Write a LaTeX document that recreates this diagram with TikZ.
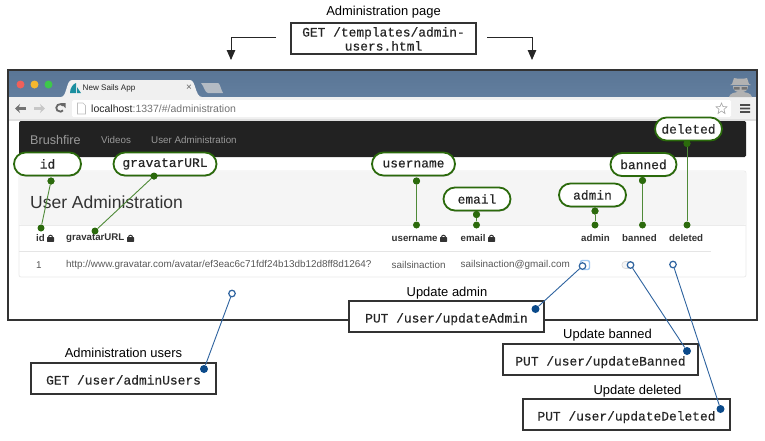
\documentclass[tikz,border=0pt]{standalone}
\usepackage{fontspec}
\setmainfont{Liberation Sans}
\setmonofont{Liberation Mono}
\newfontfamily\monom[FakeBold=0.35]{Liberation Mono}
\usetikzlibrary{shadows,calc,arrows.meta}
\definecolor{gr}{HTML}{2B6A0C}
\definecolor{grl}{HTML}{4F8A38}
\definecolor{bl}{HTML}{0B4A8A}
\definecolor{bll}{HTML}{2E639F}
\definecolor{txt}{HTML}{333333}
\definecolor{HeaderTop}{HTML}{5A7696}
\definecolor{HeaderBot}{HTML}{627E9E}
\definecolor{HTMLred}{HTML}{F0605A}
\definecolor{HTMLyel}{HTML}{F5B82E}
\definecolor{HTMLgrn}{HTML}{3DC84A}
\definecolor{HTMLtab}{HTML}{B4BBC4}
\definecolor{HTMLsail}{HTML}{1A8FA0}
\definecolor{HTMLnav}{HTML}{222222}
\definecolor{HTMLchk}{HTML}{9CC6F0}
\newcommand{\fs}[2][14]{\fontsize{#2}{#1}\selectfont}
\tikzset{
 x=1pt,y=-1pt,
 callbox/.style={draw=black!80,line width=1.2pt,fill=white,inner sep=0pt,font=\monom\fs{12.9},text=black!85,align=center,text height=12pt,text depth=0pt,drop shadow={shadow xshift=0.8pt,shadow yshift=-1.2pt,opacity=.35,fill=black}},
 pill/.style={draw=gr,line width=1.8pt,fill=white,rounded corners=11.5pt,minimum height=23pt,inner sep=0pt,font=\monom\fs{12.9},text=black!85,drop shadow={shadow xshift=0.6pt,shadow yshift=-1pt,opacity=.25,fill=black}},
 gdot/.style={circle,fill=gr,draw=none,minimum size=7pt,inner sep=0pt},
 bdot/.style={circle,fill=bl,draw=none,minimum size=8pt,inner sep=0pt},
 bopen/.style={circle,fill=white,draw=bll,line width=1.2pt,minimum size=6.5pt,inner sep=0pt},
 gline/.style={draw=grl,line width=0.9pt},
 bline/.style={draw=bll,line width=0.9pt},
 capt/.style={font=\fs{12.95},text=black,inner sep=0pt},
 head/.style={anchor=west,inner sep=0pt,font=\bfseries\fs{9.7},text=txt},
 cell/.style={anchor=west,inner sep=0pt,font=\fs{9.9},text=black!65},
 lockpic/.pic={\fill[txt,rounded corners=.5pt] (-3.5,-0.8) rectangle (3.5,3.8);\draw[txt,line width=1pt] (-2,-0.8) arc[start angle=180,end angle=360,radius=2];},
 flow/.style={draw=black!85,line width=0.9pt,-{Triangle[length=10pt,width=8.5pt]}},
}
\begin{document}
\begin{tikzpicture}
\useasboundingbox (0,0) rectangle (765,440);
\fill[white] (0,0) rectangle (765,440);
% window
\fill[white] (8,70) rectangle (757,320);
\shade[top color=HeaderTop,bottom color=HeaderBot] (8,71) rectangle (757,97);
\fill[gray!25] (8,97) rectangle (757,121);
\fill[gray!12] (8,97) rectangle (757,119);
\draw[black!80,line width=1.1pt] (8,320) -- (8,70) -- (757,70) -- (757,320) -- cycle;
% traffic lights
\fill[HTMLred] (20.5,84.5) circle (4);
\fill[HTMLyel] (34.5,84.5) circle (4);
\fill[HTMLgrn] (48.5,84.5) circle (4);
% tabs
\fill[gray!12] (61,97) .. controls (67,97) and (66,80) .. (72,80) -- (190,80) .. controls (196,80) and (195,97) .. (202,97) -- cycle;
\fill[HTMLtab] (201,83) -- (218,83) .. controls (220,83) and (221,90) .. (223,93) -- (208,93) .. controls (205,93) and (204,86) .. (201,83) -- cycle;
\fill[HTMLsail] (70,93) .. controls (70,88) and (73,84) .. (76,83) -- (76,93) -- cycle;
\fill[HTMLsail] (77,87) -- (81,93) -- (77,93) -- cycle;
\node[anchor=west,inner sep=0pt,font=\fs{8.1},text=black!85] (tabtitle) at (82.5,88) {New Sails App};
\node[inner sep=0pt,font=\fs{10},text=black!60] (tabx) at (189,87.5) {×};
% toolbar
\fill[white,rounded corners=1.5pt] (72,100) rectangle (731,117);
\draw[black!55,line width=2.3pt,-{Stealth[length=5pt,width=9pt]}] (26,108.5) -- (15,108.5);
\draw[black!22,line width=2.3pt,-{Stealth[length=5pt,width=9pt]}] (34,108.5) -- (45,108.5);
\draw[black!60,line width=1.8pt] (63,105.5) arc[start angle=-40,end angle=-320,radius=3.8] ;
\fill[black!60] (60.5,103) -- (65.5,103) -- (65.5,108) -- cycle;
\draw[black!25,fill=white,line width=.6pt] (77.5,103) -- (83,103) -- (85.5,105.5) -- (85.5,114) -- (77.5,114) -- cycle;
\node[anchor=west,inner sep=0pt,font=\fs{10.5},text=black!85] (url) at (91,108.5) {localhost\textcolor{black!55}{:1337/\#/administration}};
\draw[black!35,line width=.6pt,fill=white] (721.5,103) -- (723,106.5) -- (727,106.8) -- (724,109.3) -- (725,113.5) -- (721.5,111) -- (718,113.5) -- (719,109.3) -- (716,106.8) -- (720,106.5) -- cycle;
\fill[black!70] (740,104) rectangle (750,105.8) (740,107.5) rectangle (750,109.3) (740,111) rectangle (750,112.8);
% incognito
\fill[black!30] (732,84) -- (734,78) .. controls (738,79) and (744,79) .. (747,78) -- (749,84) -- (751,85) -- (730,85) -- cycle;
\fill[black!30] (733,86) .. controls (733,91) and (736,92) .. (740.5,92) .. controls (745,92) and (748,91) .. (748,86) -- cycle;
\fill[black!30] (729,97) .. controls (730,93) and (735,92) .. (740.5,92) .. controls (746,92) and (751,93) .. (752,97) -- cycle;
\fill[black!55] (734,87) rectangle (739.5,89.5) (741.5,87) rectangle (747,89.5);
% navbar
\fill[HTMLnav,rounded corners=1.5pt] (19,121) rectangle (746,157);
\node[anchor=west,inner sep=0pt,font=\fs{12.6},text=black!40] (brand) at (30,139.5) {Brushfire};
\node[anchor=west,inner sep=0pt,font=\fs{9.8},text=black!40] (videos) at (101,139.5) {Videos};
\node[anchor=west,inner sep=0pt,font=\fs{9.8},text=black!40] (uadm) at (151,139.5) {User Administration};
% panel
\draw[black!8,fill=white,rounded corners=2pt,line width=.8pt] (19,171) rectangle (746,277);
\fill[black!4,rounded corners=2pt] (19.5,171.5) rectangle (745.5,225);
\draw[black!8,line width=.8pt] (19,225.5) -- (746,225.5);
\node[anchor=west,inner sep=0pt,font=\fs{17.5},text=txt] (ttl) at (30,202.5) {User Administration};
% table
\draw[black!10,line width=.9pt] (19,251) -- (711,251);
\node[head] (hid) at (36,238.5) {id};
\pic at (50.5,238) {lockpic};
\node[head] (hgrav) at (66,238.5) {gravatarURL};
\pic at (130.5,238) {lockpic};
\node[head] (huser) at (391.5,238.5) {username};
\pic at (443.5,238) {lockpic};
\node[head] (hemail) at (460.5,238.5) {email};
\pic at (491.5,238) {lockpic};
\node[head] (hadmin) at (581,238.5) {admin};
\node[head] (hbanned) at (622,238.5) {banned};
\node[head] (hdeleted) at (669,238.5) {deleted};
\node[cell] (c1) at (36,264.7) {1};
\node[cell] (c2) at (66,264.7) {http://www.gravatar.com/avatar/ef3eac6c71fdf24b13db12d8ff8d1264?};
\node[cell] (c3) at (391.5,264.7) {sailsinaction};
\node[cell] (c4) at (460.5,264.7) {sailsinaction@gmail.com};
\draw[HTMLchk,line width=1.4pt,fill=white,rounded corners=2pt] (580.5,260.5) rectangle (589.5,269.5);
\draw[black!15,fill=black!4,line width=.7pt,rounded corners=3.2pt] (622,261.5) rectangle (634,268.5);
% top caption and box
\node[capt] (topcap) at (383.5,12.6) {Administration page};
\node[callbox,minimum width=185pt,minimum height=31pt,text height=24pt,text depth=0pt] (topbox) at (383.5,38.5) {GET /templates/admin-\\users.html};
\coordinate (la) at (276,37);
\coordinate (ra) at (487,37);
\coordinate (lb) at (231,60);
\coordinate (rb) at (532,60);
\draw[flow] (la) -| (lb);
\draw[flow] (ra) -| (rb);
% green connectors
\node[gdot] (dId) at (51,181) {};
\node[gdot] (eId) at (41,228) {};
\node[gdot] (dGrav) at (154,176) {};
\node[gdot] (eGrav) at (95,231) {};
\node[gdot] (dUser) at (416.5,181) {};
\node[gdot] (eUser) at (416.5,225) {};
\node[gdot] (dEmail) at (476.5,214.5) {};
\node[gdot] (eEmail) at (476.5,225) {};
\node[gdot] (dAdmin) at (595,211) {};
\node[gdot] (eAdmin) at (595,225) {};
\node[gdot] (dBan) at (642.5,180.5) {};
\node[gdot] (eBan) at (642.5,225) {};
\node[gdot] (dDel) at (687,143.5) {};
\node[gdot] (eDel) at (687,225) {};
\foreach \a/\b in {dId/eId,dGrav/eGrav,dUser/eUser,dEmail/eEmail,dAdmin/eAdmin,dBan/eBan,dDel/eDel} \draw[gline] (\a) -- (\b);
% pills
\node[pill,minimum width=67pt] (pId) at (47.5,164) {id};
\node[pill,minimum width=103pt] (pGrav) at (165,164) {gravatarURL};
\node[pill,minimum width=83pt] (pUser) at (413.5,164) {username};
\node[pill,minimum width=67pt] (pEmail) at (477,199) {email};
\node[pill,minimum width=67pt] (pAdmin) at (592.5,195) {admin};
\node[pill,minimum width=66pt] (pBan) at (643.5,164.5) {banned};
\node[pill,minimum width=67pt] (pDel) at (688.5,129) {deleted};
\node[gdot] at (dId) {};
\node[gdot] at (dGrav) {};
\node[gdot] at (dUser) {};
\node[gdot] at (dEmail) {};
\node[gdot] at (dAdmin) {};
\node[gdot] at (dBan) {};
\node[gdot] at (dDel) {};
% call boxes
\node[capt] (capGet) at (123.5,352.5) {Administration users};
\node[callbox,minimum width=185pt,minimum height=31pt] (bGet) at (123.5,378.5) {GET /user/adminUsers};
\node[capt] (capAdm) at (447,292.7) {Update admin};
\node[callbox,minimum width=195pt,minimum height=31pt] (bAdm) at (446.5,316.5) {PUT /user/updateAdmin};
\node[capt] (capBan) at (607.5,334.7) {Update banned};
\node[callbox,minimum width=195pt,minimum height=31pt] (bBan) at (600.5,359.5) {PUT /user/updateBanned};
\node[capt] (capDel) at (637.5,391) {Update deleted};
\node[callbox,minimum width=207pt,minimum height=31pt] (bDel) at (626.5,414.5) {PUT /user/updateDeleted};
% blue connectors
\node[bopen] (oGet) at (232,293.5) {};
\node[bopen] (oAdm) at (582.5,266) {};
\node[bopen] (oBan) at (630.5,265) {};
\node[bopen] (oDel) at (673,264.5) {};
\node[bdot] (sGet) at (204,369) {};
\node[bdot] (sAdm) at (535.5,309) {};
\node[bdot] (sBan) at (687,351) {};
\node[bdot] (sDel) at (720.5,409) {};
\foreach \a/\b in {sGet/oGet,sAdm/oAdm,sBan/oBan,sDel/oDel} \draw[bline] (\a) -- (\b);
\end{tikzpicture}
\end{document}
